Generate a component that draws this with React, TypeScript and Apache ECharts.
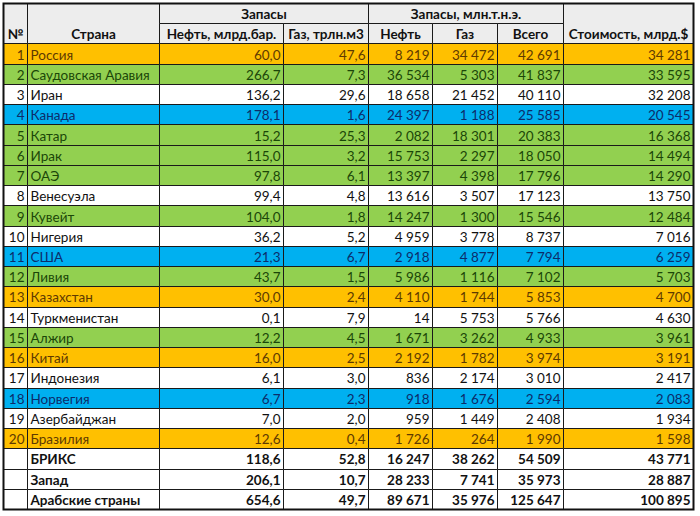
import React, { useEffect, useRef } from "react";
import * as echarts from "echarts";

// ---------- data ----------
const countries = [
  "Россия", "Саудовская Аравия", "Иран", "Канада", "Катар", "Ирак", "ОАЭ",
  "Венесуэла", "Кувейт", "Нигерия", "США", "Ливия", "Казахстан", "Туркменистан",
  "Алжир", "Китай", "Индонезия", "Норвегия", "Азербайджан", "Бразилия",
];
// group: b = БРИКС, a = Арабские страны, w = Запад, n = прочие
const groups = ["b", "a", "n", "w", "a", "a", "a", "n", "a", "n", "w", "a", "b", "n", "a", "b", "n", "w", "n", "b"];
const oilBbl = [60.0, 266.7, 136.2, 178.1, 15.2, 115.0, 97.8, 99.4, 104.0, 36.2, 21.3, 43.7, 30.0, 0.1, 12.2, 16.0, 6.1, 6.7, 7.0, 12.6];
const gasTcm = [47.6, 7.3, 29.6, 1.6, 25.3, 3.2, 6.1, 4.8, 1.8, 5.2, 6.7, 1.5, 2.4, 7.9, 4.5, 2.5, 3.0, 2.3, 2.0, 0.4];
const oilMtoe = [8219, 36534, 18658, 24397, 2082, 15753, 13397, 13616, 14247, 4959, 2918, 5986, 4110, 14, 1671, 2192, 836, 918, 959, 1726];
const gasMtoe = [34472, 5303, 21452, 1188, 18301, 2297, 4398, 3507, 1300, 3778, 4877, 1116, 1744, 5753, 3262, 1782, 2174, 1676, 1449, 264];
const totalMtoe = [42691, 41837, 40110, 25585, 20383, 18050, 17796, 17123, 15546, 8737, 7794, 7102, 5853, 5766, 4933, 3974, 3010, 2594, 2408, 1990];
const valueBn = [34281, 33595, 32208, 20545, 16368, 14494, 14290, 13750, 12484, 7016, 6259, 5703, 4700, 4630, 3961, 3191, 2417, 2083, 1934, 1598];

const summaryNames = ["БРИКС", "Запад", "Арабские страны"];
const summaryOilBbl = [118.6, 206.1, 654.6];
const summaryGasTcm = [52.8, 10.7, 49.7];
const summaryOilMtoe = [16247, 28233, 89671];
const summaryGasMtoe = [38262, 7741, 35976];
const summaryTotalMtoe = [54509, 35973, 125647];
const summaryValueBn = [43771, 28887, 100895];

const headerTop = ["№", "Страна", "Запасы", "Запасы, млн.т.н.э.", "Стоимость, млрд.$"];
const headerSub = ["Нефть, млрд.бар.", "Газ, трлн.м3", "Нефть", "Газ", "Всего"];

// ---------- layout / style ----------
const colEdges = [0, 24, 156, 280, 365, 429, 494, 560, 690];
const FONT = "Lato, 'Open Sans', sans-serif";
const FS = 13.5;
const styles: Record<string, { fill: string; text: string }> = {
  b: { fill: "#ffc000", text: "#5e3a00" },
  a: { fill: "#92d050", text: "#1b4608" },
  w: { fill: "#00b0f0", text: "#0c2c6a" },
  n: { fill: "#ffffff", text: "#111111" },
  h: { fill: "#ededed", text: "#111111" },
  s: { fill: "#ffffff", text: "#111111" },
};

const fmtInt = (n: number) => String(n).replace(/\B(?=(\d{3})+(?!\d))/g, "\u00a0");
const fmtDec = (n: number) => n.toFixed(1).replace(".", ",");

const rowLabels = ["h0", "h1", ...countries, ...summaryNames];

type Cell = {
  value: number[]; // [x0, x1, row, span]
  text: string;
  align: "left" | "right" | "center";
  kind: string;
  bold: boolean;
  textRow: number;
};

function buildCells(): Cell[] {
  const cells: Cell[] = [];
  const add = (c0: number, c1: number, row: number, span: number, text: string, align: Cell["align"], kind: string, bold: boolean, textRow?: number) =>
    cells.push({ value: [colEdges[c0], colEdges[c1], row, span], text, align, kind, bold, textRow: textRow ?? row });
  // header
  add(0, 1, 0, 2, headerTop[0], "center", "h", true, 1);
  add(1, 2, 0, 2, headerTop[1], "center", "h", true, 1);
  add(2, 4, 0, 1, headerTop[2], "center", "h", true);
  add(4, 7, 0, 1, headerTop[3], "center", "h", true);
  add(7, 8, 0, 2, headerTop[4], "center", "h", true, 1);
  headerSub.forEach((t, i) => add(2 + i, 3 + i, 1, 1, t, "center", "h", true));
  // countries
  countries.forEach((name, i) => {
    const r = 2 + i;
    const k = groups[i];
    add(0, 1, r, 1, String(i + 1), "right", k, false);
    add(1, 2, r, 1, name, "left", k, false);
    add(2, 3, r, 1, fmtDec(oilBbl[i]), "right", k, false);
    add(3, 4, r, 1, fmtDec(gasTcm[i]), "right", k, false);
    add(4, 5, r, 1, fmtInt(oilMtoe[i]), "right", k, false);
    add(5, 6, r, 1, fmtInt(gasMtoe[i]), "right", k, false);
    add(6, 7, r, 1, fmtInt(totalMtoe[i]), "right", k, false);
    add(7, 8, r, 1, fmtInt(valueBn[i]), "right", k, false);
  });
  summaryNames.forEach((name, i) => {
    const r = 2 + countries.length + i;
    add(0, 1, r, 1, "", "right", "s", true);
    add(1, 2, r, 1, name, "left", "s", true);
    add(2, 3, r, 1, fmtDec(summaryOilBbl[i]), "right", "s", true);
    add(3, 4, r, 1, fmtDec(summaryGasTcm[i]), "right", "s", true);
    add(4, 5, r, 1, fmtInt(summaryOilMtoe[i]), "right", "s", true);
    add(5, 6, r, 1, fmtInt(summaryGasMtoe[i]), "right", "s", true);
    add(6, 7, r, 1, fmtInt(summaryTotalMtoe[i]), "right", "s", true);
    add(7, 8, r, 1, fmtInt(summaryValueBn[i]), "right", "s", true);
  });
  // frame
  cells.push({ value: [colEdges[0], colEdges[colEdges.length - 1], 0, rowLabels.length], text: "", align: "left", kind: "frame", bold: false, textRow: 0 });
  return cells;
}

export default function App() {
  const ref = useRef<HTMLDivElement>(null);
  useEffect(() => {
    if (!ref.current) return;
    const chart = echarts.init(ref.current, undefined, { renderer: "svg" });
    const cells = buildCells();
    chart.setOption({
      animation: false,
      backgroundColor: "#ffffff",
      grid: { left: 3, top: 3, width: 690, height: 506 },
      xAxis: { type: "value", min: 0, max: 690, show: false },
      yAxis: { type: "category", data: rowLabels, inverse: true, show: false },
      series: [
        {
          type: "custom",
          clip: false,
          silent: true,
          encode: { x: [0, 1], y: 2 },
          data: cells.map((c) => ({ value: c.value })),
          renderItem: (params: any, api: any) => {
            const c = cells[params.dataIndex];
            const x0 = api.value(0), x1 = api.value(1), row = api.value(2), span = api.value(3);
            const bh = api.size([0, 1])[1];
            const pa = api.coord([x0, row]);
            const pb = api.coord([x1, row]);
            const left = Math.round(pa[0]) + 0.5;
            const right = Math.round(pb[0]) + 0.5;
            const top = Math.round(pa[1] - bh / 2) + 0.5;
            const bottom = Math.round(pa[1] - bh / 2 + bh * span) + 0.5;
            if (c.kind === "frame") {
              return {
                type: "rect",
                shape: { x: left, y: top, width: right - left, height: bottom - top },
                style: { fill: "none", stroke: "#111", lineWidth: 2 },
                z2: 10,
              };
            }
            const st = styles[c.kind];
            const ty = api.coord([x0, c.textRow])[1];
            let tx = (left + right) / 2;
            if (c.align === "left") tx = left + 3;
            if (c.align === "right") tx = right - 3;
            return {
              type: "group",
              children: [
                {
                  type: "rect",
                  shape: { x: left, y: top, width: right - left, height: bottom - top },
                  style: { fill: st.fill, stroke: "#1a1a1a", lineWidth: 1 },
                },
                {
                  type: "text",
                  x: tx,
                  y: ty + 1,
                  style: {
                    text: c.text,
                    align: c.align,
                    verticalAlign: "middle",
                    fill: st.text,
                    font: `${c.bold ? "bold " : ""}${FS}px ${FONT}`,
                  },
                },
              ],
            };
          },
        },
      ],
    });
    return () => chart.dispose();
  }, []);
  return (
    <div
      ref={ref}
      style={{ position: "absolute", left: 0, top: 0, width: 700, height: 516, background: "#fff" }}
    />
  );
}
